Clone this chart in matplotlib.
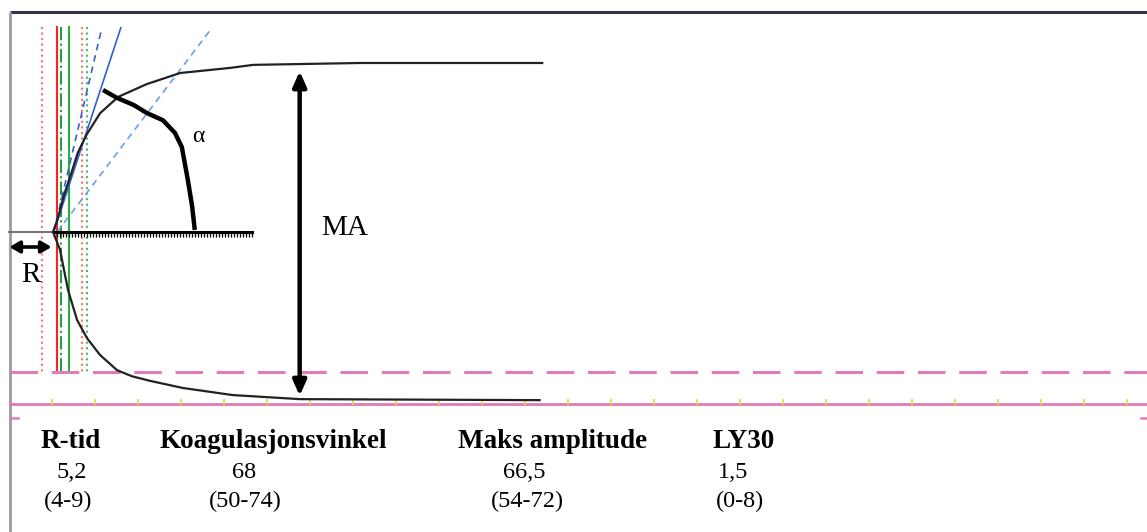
import numpy as np
import matplotlib
matplotlib.use("Agg")
import matplotlib.pyplot as plt

# ---------------- data ----------------
r_time = 5.2            # min
ma = 66.5               # mm
angle_label = "\u03b1"

# TEG trace (upper / lower branch), time in min, amplitude in mm
upper_t = [5.12, 5.7, 6.4, 7.1, 8.0, 9.0, 10.6, 12.7, 16.0, 19.9, 25.7, 28.4, 40.8, 62.0]
upper_a = [0.0, 2.8, 7.3, 10.8, 15.6, 19.1, 23.4, 26.6, 29.1, 31.3, 32.3, 32.9, 33.27, 33.27]
lower_t = [5.12, 5.93, 6.86, 7.91, 9.07, 10.58, 12.56, 14.3, 16.4, 20.2, 26.0, 33.8, 61.7]
lower_a = [0.0, -3.5, -11.4, -17.3, -20.9, -24.2, -27.2, -28.4, -29.3, -30.7, -32.1, -32.9, -33.1]

# angle arc (alpha)
arc_t = [10.93, 12.56, 14.5, 16.05, 17.9, 19.3, 20.1, 20.8, 21.3, 21.6]
arc_a = [27.95, 26.4, 25.0, 23.4, 22.0, 19.5, 16.7, 10.2, 5.0, 0.4]

# tangent lines (start, end)
tan_solid_t = [5.2, 13.0]
tan_dash_t = [5.2, 10.8]
tan_light_t = [5.6, 23.6]
tan_a = [0.0, 40.2]

# reference vertical lines (time in min)
vline_t = [3.8, 5.55, 6.05, 7.0, 8.5, 9.1]
vline_col = ["#ff7070", "#ff2020", "#20a040", "#20b040", "#ff7070", "#40c060"]
vline_ls = [":", "-", "-.", "-", ":", ":"]

baseline_end = 28.3
ma_arrow_t = 33.8
tick_times = np.arange(5, 131, 5)
pink_dash_a = -27.6
pink_solid_a = -33.9

labels = ["R-tid", "Koagulasjonsvinkel", "Maks amplitude", "LY30"]
values = ["5,2", "68", "66,5", "1,5"]
ranges = ["(4-9)", "(50-74)", "(54-72)", "(0-8)"]

# ---------------- layout ----------------
W, H = 1147, 532
X0, PXM = 9.0, 8.6       # px of t=0, px per minute
Y0, PXA = 232.0, 5.08    # px of a=0, px per mm

fig = plt.figure(figsize=(W / 100, H / 100), dpi=100)
ax = fig.add_axes([0, 0, 1, 1])
ax.set_xlim(-X0 / PXM, (W - X0) / PXM)
ax.set_ylim((Y0 - H) / PXA, Y0 / PXA)
ax.axis("off")

def tx(px):
    return (px - X0) / PXM

def ty(py):
    return (Y0 - py) / PXA

serif = ["Liberation Serif", "DejaVu Serif"]

# frame
ax.plot([tx(10), tx(W)], [ty(12), ty(12)], color="#33334d", lw=2.2, solid_capstyle="butt")
ax.plot([tx(10), tx(10)], [ty(12), ty(H)], color="#9a9a9a", lw=2, solid_capstyle="butt")

# vertical reference lines
for t, c, ls in zip(vline_t, vline_col, vline_ls):
    ax.plot([t, t], [ty(27), pink_dash_a], color=c, ls=ls, lw=1.5)

# pink lines
ax.plot([tx(10), tx(W)], [pink_dash_a, pink_dash_a], color="#e07ab8", lw=2.2,
        dashes=(9, 4.5))
ax.plot([tx(10), tx(W)], [pink_solid_a, pink_solid_a], color="#e07ab8", lw=2)
ax.plot(tick_times, np.full(len(tick_times), pink_solid_a + 0.45), ls="none",
        marker="|", ms=4, mew=1.2, color="#e8d830")
ax.plot([tx(10), tx(18)], [ty(418), ty(418)], color="#e07ab8", lw=1.8)
ax.plot([tx(1141), tx(W)], [ty(418), ty(418)], color="#e07ab8", lw=1.8)

# tangent lines
ax.plot(tan_solid_t, tan_a, color="#3060d0", lw=1.2)
ax.plot(tan_dash_t, tan_a, color="#3a5fd0", lw=1.2, ls=(0, (4, 3)))
ax.plot(tan_light_t, tan_a, color="#6aa0e8", lw=1.2, ls=(0, (4, 3)))

# baseline before R and ruled baseline
ax.plot([0, r_time], [0, 0], color="#707080", lw=1.4)
bt = np.arange(r_time, baseline_end, 0.35)
ax.plot([r_time, baseline_end], [0, 0], color="black", lw=2.2)
ax.plot(bt, np.full(len(bt), -0.55), ls="none", marker="|", ms=3.5, mew=0.9, color="black")

# TEG trace
ax.plot(upper_t, upper_a, color="#222222", lw=1.6)
ax.plot(lower_t, lower_a, color="#222222", lw=1.6)

# alpha arc
ax.plot(arc_t, arc_a, color="black", lw=3.2, solid_capstyle="butt")
ax.text(tx(198), ty(136), angle_label, fontsize=17, family=serif, ha="center", va="center")

# R arrow
ax.annotate("", xy=(0.05, ty(247)), xytext=(r_time - 0.25, ty(247)),
            arrowprops=dict(arrowstyle="<|-|>,head_length=0.6,head_width=0.35",
                            color="black", lw=2.6, shrinkA=0, shrinkB=0))
ax.text(tx(31), ty(275), "R", fontsize=21, family=serif, ha="center", va="center")

# MA arrow
ax.annotate("", xy=(ma_arrow_t, ma / 2 - 1.6), xytext=(ma_arrow_t, -ma / 2 + 1.0),
            arrowprops=dict(arrowstyle="<|-|>,head_length=0.9,head_width=0.4",
                            color="black", lw=3.2, shrinkA=0, shrinkB=0))
ax.text(tx(345), ty(228), "MA", fontsize=21, family=serif, ha="center", va="center")

# results table
lab_x = [71, 273, 553, 744]
val_x = [72, 244, 524, 733]
rng_x = [68, 245, 527, 740]
for lx, vx, rx, l, v, r in zip(lab_x, val_x, rng_x, labels, values, ranges):
    fig.text(lx / W, 1 - 442 / H, l, fontsize=19.5, fontweight="bold", family=serif,
             ha="center", va="center")
    fig.text(vx / W, 1 - 473 / H, v, fontsize=17.5, family=serif, ha="center", va="center")
    fig.text(rx / W, 1 - 501 / H, r, fontsize=17.5, family=serif, ha="center", va="center")

fig.savefig("out.png", dpi=100, facecolor="white")
